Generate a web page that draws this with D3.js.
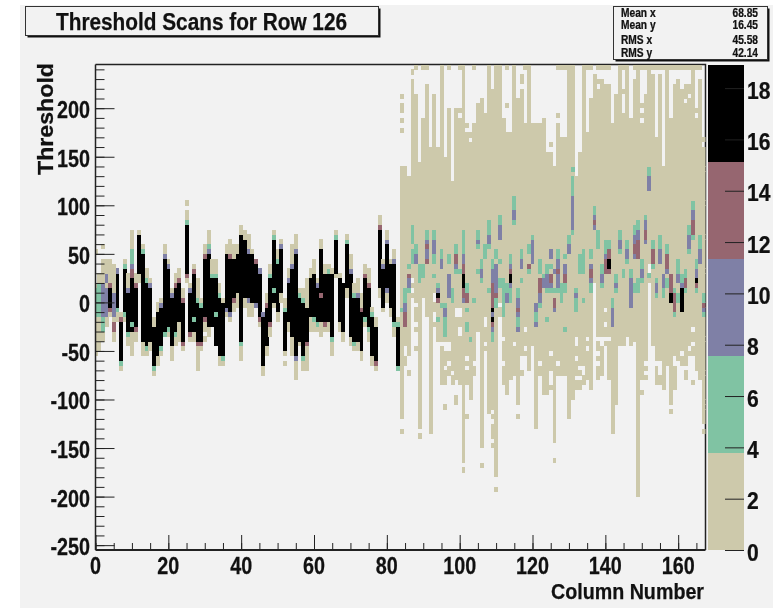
<!DOCTYPE html>
<html><head><meta charset="utf-8">
<script src="https://cdn.jsdelivr.net/npm/d3@7/dist/d3.min.js"></script>
<style>
html,body{margin:0;padding:0;background:#fff}
svg{display:block;filter:blur(0.45px)}
text{font-family:"Liberation Sans",Arial,sans-serif;font-weight:700;fill:#111;stroke:#111;stroke-width:.25px}
</style></head><body>
<svg id="c" width="773" height="608"></svg>
<script>
const titleText="Threshold Scans for Row 126", xLabel="Column Number", yLabel="Threshold";
const statNames=["Mean x","Mean y","RMS x","RMS y"], statValues=["68.85","16.45","45.58","42.14"];
const xTicks=[0,20,40,60,80,100,120,140,160];
const yTicks=[-250,-200,-150,-100,-50,0,50,100,150,200];
const zTicks=[0,2,4,6,8,10,12,14,16,18];
const levelColors=["#cdc9ab","#80c3a3","#7f80a6","#966670","#000000"];
// representative bin count for level index (0 = empty)
const levelCounts=[0,2,6,9,13,17];

// columns 4..83: [tanTop, upperEdgeLevel, blackTop, blackBottom, lowerEdgeLevel, tanBottom]
const denseColumns=[
[4,45,3,15,-5,3,-15],[6,35,2,30,-5,1,-20],[7,-10,3,-20,-60,1,-70],[8,45,1,35,-10,1,-20],[9,30,2,10,-30,1,-45],
[10,75,3,25,-30,0,-55],[11,30,3,15,-25,3,-40],[12,75,0,70,30,0,20],[13,60,1,50,-40,0,-55],[14,35,1,20,-45,1,-55],
[15,25,2,15,-40,0,-50],[16,-15,0,-25,-65,1,-75],[17,0,0,-10,-55,0,-65],[18,5,2,-5,-45,1,-55],[19,60,2,45,-30,1,-35],
[20,45,2,35,-25,1,-35],[21,15,2,5,-45,0,-60],[22,30,3,15,-30,1,-45],[23,35,3,20,-20,0,-40],[24,15,3,0,-40,3,-50],
[25,95,1,80,30,3,20],[26,20,2,10,-30,3,-40],[27,40,3,30,-30,0,-40],[28,25,1,0,-40,3,-70],[29,5,1,-5,-40,3,-50],
[30,60,3,45,-15,3,-30],[31,75,2,50,-25,0,-35],[32,45,1,25,-25,0,-25],[33,45,1,25,-45,0,-45],[34,20,1,5,-55,0,-65],
[35,5,0,0,-55,1,-65],[36,60,0,50,-5,2,-15],[37,65,3,45,-10,2,-20],[38,60,0,45,5,3,-10],[39,60,0,50,10,0,-5],
[40,80,0,70,-40,1,-60],[41,75,0,65,5,0,-5],[42,70,2,50,5,2,-15],[43,55,0,50,0,0,-15],[44,45,3,40,0,2,-5],
[45,35,2,30,-15,3,-25],[46,-10,2,-15,-65,0,-75],[47,10,3,-5,-45,0,-55],[48,40,1,25,-20,3,-35],[49,75,1,65,0,0,-5],
[50,55,1,40,-10,0,-20],[51,65,2,55,10,0,0],[52,5,1,-10,-50,0,-55],[53,35,2,20,-20,0,-30],[54,60,2,35,-35,0,-55],
[55,70,2,50,-55,2,-80],[56,15,1,5,-40,0,-45],[57,15,1,0,-55,1,-70],[58,25,0,-5,-40,3,-70],[59,35,0,25,-15,0,-30],
[60,45,0,30,-15,1,-30],[61,25,2,15,-20,1,-30],[62,65,0,55,-20,0,-35],[63,40,0,30,-20,3,-30],[64,40,1,30,-20,0,-30],
[65,35,0,30,-35,1,-55],[66,75,1,65,30,0,25],[67,30,0,25,-20,0,-30],[68,20,0,20,-30,0,-40],[69,70,1,60,15,0,5],
[70,50,2,30,-35,0,-45],[71,20,1,5,-40,1,-50],[72,25,2,5,-40,0,-50],[73,10,3,-10,-50,0,-60],[74,40,3,25,-15,1,-25],
[75,35,3,15,-25,1,-40],[76,-5,1,-15,-55,0,-65],[77,-15,0,-25,-60,3,-70],[78,90,3,75,15,0,5],[79,45,2,35,-5,0,-10],
[80,75,2,60,15,2,0],[81,45,0,40,-5,0,-15],[82,55,2,40,-20,1,-35],[83,-15,1,-25,-65,1,-70]
];
// columns 0..3 and 5 have tan only, accents come from the list further down
const sparseLeft=[[0,20,-55],[1,30,-50],[2,45,-40],[3,45,-25],[5,40,-40]];

// columns 84..167, tan extent
const wallFirst=84;
const tanTops=[140,140,130,230,215,145,190,225,160,215,160,245,150,200,125,200,200,245,175,175,185,205,210,195,245,220,245,240,190,175,175,245,210,220,185,245,185,185,185,190,155,155,140,185,170,170,240,245,130,155,245,175,210,235,230,230,225,225,185,215,245,195,240,190,230,245,205,215,245,235,170,235,140,245,190,225,230,220,225,225,245,200,230,170];
const tanBottoms=[-120,-65,-55,5,-50,-130,5,-15,-135,-25,-40,-85,-85,-85,-85,-80,-85,-165,-85,-100,-75,-30,-150,-50,-115,-150,-180,-15,-85,-95,-80,-75,-105,-75,-60,-70,-45,-130,-75,-95,-95,-90,-145,-75,-75,-75,-120,-100,-90,-90,-85,-80,-90,20,-80,-80,-45,-80,-135,-105,-45,-45,-35,-45,-40,-200,-80,-80,20,-45,-85,-85,-90,-65,-105,-90,-60,-65,-80,-55,-55,-70,-80,-135];

// isolated tan cells: [column, high, low]
const tanStrays=[[0,55,50],[2,60,55],[84,215,210],[84,205,195],[84,190,185],[84,180,175],[84,-130,-135],[87,240,235],[86,-70,-75],[89,-135,-140],[96,-105,-110],[99,-95,-105],[101,-170,-175],[102,-115,-120],[102,185,180],[106,-165,-170],[110,-190,-195],[113,205,200],[116,-115,-120],[117,235,225],[125,165,160],[126,-160,-165],[127,195,190],[145,220,215],[150,-90,-95],[158,-110,-115],[164,-80,-85],[25,105,100],[30,-35,-40],[52,-60,-65]];
const topRowColumns=[88,90,91,97,100,104,108,111,113,118,127,128,129,130,131,134,135,136,138,139,140,141,144,145,146,148,149,150,151,153,154,155,156,158,159,160,161,162,163,165,166];
// empty cells inside the tan area: [column, high, low]
const tanHoles=[[85,-45,-55],[87,25,20],[87,15,10],[88,0,-5],[88,-20,-25],[88,-30,-45],[93,10,0],[93,-10,-20],[95,-40,-45],[96,-40,-50],[96,-65,-70],[97,-40,-50],[97,-60,-65],[97,-75,-85],[98,-70,-75],[99,-5,-15],[100,195,190],[100,-5,-15],[100,-25,-35],[102,-55,-60],[102,-65,-70],[103,170,165],[104,-60,-65],[107,-15,-25],[107,-40,-45],[109,-110,-115],[109,-120,-125],[109,-140,-145],[111,0,-5],[112,-35,-40],[112,-60,-65],[115,-40,-45],[117,-55,-70],[118,-25,-30],[118,-45,-50],[118,-55,-70],[122,-60,-65],[125,-50,-55],[125,-70,-85],[127,-60,-65],[132,-35,-45],[132,-55,-60],[132,-75,-80],[133,-65,-70],[133,-75,-80],[134,-65,-75],[135,-35,-40],[135,-45,-50],[138,225,220],[138,-35,-40],[138,-50,-55],[138,-60,-65],[139,-35,-45],[139,-75,-80],[140,-5,-10],[140,-20,-25],[140,-35,-40],[141,-35,-40],[150,200,195],[150,190,185],[151,-60,-65],[151,-70,-75],[152,40,30],[154,-60,-65],[155,-60,-75],[159,-55,-65],[161,-50,-55],[162,-65,-70],[162,210,205],[163,215,210],[163,-45,-50],[164,-25,-30],[164,-40,-45],[165,195,190],[165,-75,-80],[167,165,160],[167,-125,-130]];

// coloured cell runs: [column, high, low, level: 1 green, 2 purple, 3 maroon, 4 black]
const accents=[
[0,15,-15,1],[1,20,-15,1],[2,20,-15,2],[2,-15,-30,1],[3,15,-15,2],[3,30,20,2],[5,10,-15,2],[5,-20,-30,3],
[10,55,40,1],[10,40,35,2],[10,35,25,3],[10,-20,-25,1],[27,-15,-20,1],[31,60,55,1],[33,-10,-15,1],[49,15,10,1],[62,10,5,3],
[84,-5,-10,1],[85,15,0,1],[85,0,-10,2],[85,-10,-25,3],[86,40,35,1],[86,30,25,3],[86,25,15,2],[86,15,10,1],
[87,80,60,1],[87,55,40,1],[88,60,50,1],[88,50,40,2],[89,40,20,1],[90,40,25,1],[91,75,65,1],[91,65,60,2],[91,60,55,3],[91,55,45,2],[91,45,40,3],
[93,75,65,1],[93,65,50,2],[93,50,40,1],[93,30,25,1],[94,20,15,1],[94,15,10,2],[94,10,5,4],[94,5,0,3],[94,-15,-20,1],
[95,55,45,1],[95,45,35,2],[95,0,-5,1],[96,0,-5,1],[96,-5,-15,2],[96,-15,-35,1],[97,50,40,1],[97,30,5,2],[98,15,0,1],
[99,60,50,1],[99,50,40,3],[99,40,35,2],[99,35,30,1],[100,35,30,1],[101,75,50,1],[101,50,40,2],[101,40,30,3],[101,30,15,4],[101,15,5,3],[101,5,0,2],
[102,20,10,1],[102,10,0,3],[102,-5,-10,1],[102,-20,-30,1],[103,-35,-40,1],[104,5,0,1],[105,75,65,1],[105,65,60,2],[105,60,55,1],[105,35,30,1],
[106,45,35,1],[106,35,25,2],[106,25,20,1],[107,60,45,1],[108,85,70,1],[108,70,60,2],[108,60,55,1],[108,15,10,1],
[109,45,35,1],[109,35,20,2],[109,20,-5,3],[109,-5,-10,4],[109,-10,-15,2],[109,-15,-20,4],[109,-20,-25,3],[109,-25,-30,2],[109,-30,-40,1],
[110,55,45,1],[110,40,10,2],[110,10,5,3],[110,5,-5,1],[111,90,80,1],[111,80,65,2],[111,45,40,1],[111,25,15,1],[112,25,-15,1],[113,20,10,1],[113,10,0,2],
[114,50,40,1],[114,40,35,2],[114,35,30,3],[114,30,20,4],[114,20,15,2],[114,15,0,1],[115,110,95,1],[115,95,85,2],[115,85,80,1],
[116,15,5,1],[116,5,-5,2],[116,-5,-10,3],[116,-10,-15,2],[116,-15,-25,1],[116,-25,-30,2],[117,55,45,1],[117,45,35,2],[117,25,20,1],
[119,60,50,1],[119,40,35,3],[119,35,30,1],[120,70,65,1],[120,65,40,2],[121,0,-10,2],[121,-10,-20,1],[121,-20,-25,2],
[122,45,30,1],[122,25,10,3],[122,10,0,2],[122,0,-5,1],[123,30,25,1],[123,25,15,2],[124,40,30,1],[124,30,15,2],[124,15,10,1],[124,-15,-20,1],
[125,55,45,2],[125,40,35,1],[125,30,20,3],[125,20,15,2],[125,15,10,1],[126,35,30,2],[126,15,10,1],[126,5,-5,3],[126,-5,-10,2],
[127,55,45,1],[127,45,35,2],[127,35,30,3],[127,30,15,2],[127,15,10,1],[128,20,0,1],[129,50,45,1],[129,40,30,2],[129,30,20,3],[129,20,10,1],[129,-25,-30,1],
[130,70,60,1],[130,60,50,2],[131,140,135,1],[131,130,110,1],[131,110,75,2],[131,75,70,1],[132,15,10,1],[132,10,5,2],[132,5,-10,1],
[133,50,30,1],[134,55,30,1],[134,5,0,1],[136,55,45,1],[136,40,35,2],[136,35,25,3],[136,25,20,2],[136,20,10,1],
[137,100,90,1],[137,90,85,2],[137,85,80,3],[137,80,75,2],[138,75,55,1],[139,40,30,1],[139,30,20,2],[139,20,15,1],
[140,65,50,1],[140,50,45,2],[140,45,30,3],[141,65,55,1],[141,55,45,3],[141,45,35,4],[141,35,30,3],[142,5,-5,1],[142,-5,-25,2],
[143,30,20,1],[143,20,15,2],[143,15,10,1],[144,75,65,1],[144,65,55,2],[144,55,50,1],[145,35,25,1],[146,65,55,1],[146,55,45,2],[146,45,40,1],
[147,35,25,1],[147,25,-5,2],[148,80,70,1],[148,70,60,2],[148,60,50,3],[148,50,45,2],[148,20,10,1],[149,85,75,1],[149,75,65,2],[149,65,45,3],[149,25,10,1],
[150,45,35,1],[150,35,25,2],[150,25,20,1],[151,90,85,1],[151,85,75,2],[151,75,65,3],[151,65,60,2],[152,140,130,1],[152,130,115,2],[152,30,25,1],
[153,65,55,1],[153,55,40,3],[153,40,35,1],[154,25,20,1],[154,20,10,2],[154,10,5,1],[155,70,55,1],[155,55,40,2],[156,30,15,2],[156,15,5,1],
[157,60,50,1],[157,50,35,3],[157,35,30,2],[157,25,15,1],[158,30,10,3],[158,10,0,4],[159,15,10,1],[159,10,-10,3],[159,-10,-15,1],
[160,45,30,1],[160,30,20,2],[160,10,0,1],[161,30,20,1],[161,20,15,2],[161,15,-10,4],[162,35,25,1],[162,25,15,3],[162,15,10,1],
[163,80,70,1],[163,70,55,2],[163,55,50,1],[164,105,95,1],[164,95,85,2],[164,85,70,3],[164,70,65,1],
[165,45,35,1],[165,35,25,2],[165,25,20,4],[165,20,15,3],[165,15,10,1],[166,70,55,1],[166,55,40,2],[167,10,0,1],[167,0,-5,3],[167,-5,-10,2],[167,-10,-15,1]
];

const svg=d3.select("#c");
svg.append("rect").attr("x",20).attr("y",5).attr("width",753).attr("height",603).attr("fill","#f2f2f2");

const x=d3.scaleLinear().domain([0,167.5]).range([95.5,705.5]);
const y=d3.scaleLinear().domain([-255,245]).range([550,64.5]);
const z=d3.scaleLinear().domain([0,18.9]).range([550,65]);
const colorOf=d3.scaleQuantize().domain([0,18.9]).range(levelColors);

// --- histogram cells
const grid=new Map();
const paint=(c,hi,lo,count)=>{for(let t=lo;t<hi;t+=5)grid.set(c+":"+t,count);};
sparseLeft.forEach(([c,hi,lo])=>paint(c,hi,lo,levelCounts[1]));
denseColumns.forEach(([c,tT,up,bT,bB,low,tB])=>{
  paint(c,tT,tB,levelCounts[1]);
  if(up)paint(c,bT+5,bT,levelCounts[up+1]);
  if(low)paint(c,bB,bB-5,levelCounts[low+1]);
  paint(c,bT,bB,levelCounts[5]);
});
tanTops.forEach((t,i)=>paint(wallFirst+i,t,tanBottoms[i],levelCounts[1]));
tanStrays.forEach(([c,hi,lo])=>paint(c,hi,lo,levelCounts[1]));
topRowColumns.forEach(c=>paint(c,245,240,levelCounts[1]));
tanHoles.forEach(([c,hi,lo])=>paint(c,hi,lo,0));
accents.forEach(([c,hi,lo,l])=>paint(c,hi,lo,levelCounts[l+1]));
const cells=[...grid.entries()].filter(e=>e[1]>0).map(([k,v])=>{const [c,t]=k.split(":").map(Number);return {c,t,v};});

svg.append("clipPath").attr("id","plot").append("rect")
  .attr("x",x(0)).attr("y",y(245)).attr("width",x(167.5)-x(0)).attr("height",y(-255)-y(245));

svg.append("path").attr("d",`M${x(0)},${y(245)}H${x(167.5)}V${y(-255)}`).attr("fill","none").attr("stroke","#222").attr("stroke-width",1.5);

svg.append("g").attr("clip-path","url(#plot)").attr("shape-rendering","crispEdges")
  .selectAll("rect").data(cells).join("rect")
  .attr("x",d=>x(d.c-0.5)).attr("width",d=>x(d.c+0.5)-x(d.c-0.5)+0.3)
  .attr("y",d=>y(d.t+5)).attr("height",d=>y(d.t)-y(d.t+5)+0.3)
  .attr("fill",d=>colorOf(d.v));

// --- axes
const squeeze=0.86;
const axisColor="#222";
function tidy(g){g.selectAll("line").attr("stroke",axisColor);g.select(".domain").remove();}

tidy(svg.append("g").attr("transform",`translate(${x(0)},0)`)
  .call(d3.axisRight(y).tickValues(d3.range(-250,250,10)).tickSize(9).tickFormat("")));
tidy(svg.append("g").attr("transform",`translate(${x(0)},0)`)
  .call(d3.axisRight(y).tickValues(yTicks).tickSize(19).tickFormat("")));
svg.append("line").attr("x1",x(0)).attr("x2",x(0)).attr("y1",y(245)).attr("y2",y(-255)).attr("stroke",axisColor).attr("stroke-width",1.5);
tidy(svg.append("g").attr("transform",`translate(0,${y(-255)})`)
  .call(d3.axisTop(x).tickValues(d3.range(0,167,5)).tickSize(7).tickFormat("")));
tidy(svg.append("g").attr("transform",`translate(0,${y(-255)})`)
  .call(d3.axisTop(x).tickValues(xTicks).tickSize(15).tickFormat("")));
svg.append("line").attr("x1",x(0)).attr("x2",x(167.5)).attr("y1",y(-255)).attr("y2",y(-255)).attr("stroke",axisColor).attr("stroke-width",2);

function label(str,px,py,anchor,size,sx){
  return svg.append("text").attr("transform",`translate(${px},${py}) scale(${sx},1)`)
    .attr("text-anchor",anchor).attr("font-size",size).text(str);
}
yTicks.forEach(v=>label(v,90,y(v)+10,"end",23,squeeze));
xTicks.forEach(v=>label(v,x(v),574,"middle",23,squeeze));

// --- colour bar
const zEdges=[0,...colorOf.thresholds(),18.9];
svg.append("g").attr("shape-rendering","crispEdges").selectAll("rect").data(levelColors).join("rect")
  .attr("x",708).attr("width",36)
  .attr("y",(d,i)=>z(zEdges[i+1])).attr("height",(d,i)=>z(zEdges[i])-z(zEdges[i+1]))
  .attr("fill",d=>d);
tidy(svg.append("g").attr("transform","translate(744,0)")
  .call(d3.axisRight(z).tickValues(zTicks).tickSize(-19).tickFormat("")));
zTicks.forEach(v=>label(v,747,z(v)+10.5,"start",24,0.88));

// --- axis titles
svg.append("text").attr("transform","translate(53,175) rotate(-90)")
  .attr("font-size",22).attr("textLength",112).attr("lengthAdjust","spacingAndGlyphs").text(yLabel);
svg.append("text").attr("x",551).attr("y",599)
  .attr("font-size",22).attr("textLength",153).attr("lengthAdjust","spacingAndGlyphs").text(xLabel);

// --- title box
function box(bx,by,w,h){
  svg.append("rect").attr("x",bx+2).attr("y",by+2).attr("width",w).attr("height",h).attr("fill","#111");
  svg.append("rect").attr("x",bx).attr("y",by).attr("width",w).attr("height",h).attr("fill","#f2f2f2").attr("stroke","#333").attr("stroke-width",1);
}
box(25.5,6.5,353,29);
svg.append("text").attr("x",56).attr("y",30).attr("font-size",24)
  .attr("textLength",291).attr("lengthAdjust","spacingAndGlyphs").text(titleText);

// --- stats box
box(613.5,6.5,154,53);
const statY=[17,29,44,57];
statNames.forEach((n,i)=>{
  svg.append("text").attr("transform",`translate(621,${statY[i]}) scale(0.85,1)`).attr("font-size",12).text(n);
  svg.append("text").attr("transform",`translate(758,${statY[i]}) scale(0.85,1)`).attr("font-size",12).attr("text-anchor","end").text(statValues[i]);
});
</script>
</body></html>
